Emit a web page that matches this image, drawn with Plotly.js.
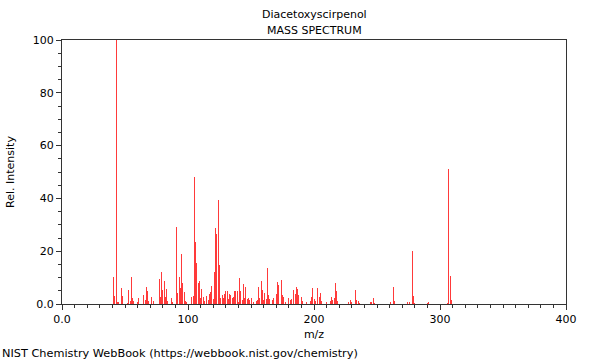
<!DOCTYPE html>
<html>
<head>
<meta charset="utf-8">
<script src="https://cdn.plot.ly/plotly-3.0.1.min.js"></script>
<style>html,body{margin:0;padding:0;background:#fff;}#chart{width:600px;height:360px;}</style>
</head>
<body>
<div id="chart"></div>
<script>
// m/z values and relative intensities
const mz = [41,42,43,44,45,47,48,52,53,54,55,56,57,60,61,65,66,67,68,69,71,73,77,78,79,80,81,82,83,84,87,88,
  91,92,93,94,95,96,97,98,99,103,104,105,106,107,108,109,110,111,112,113,115,116,117,118,119,120,
  121,122,123,124,125,126,127,128,129,130,131,132,133,134,135,136,137,138,139,140,141,142,143,144,145,
  146,147,148,149,150,152,154,155,156,157,158,159,160,161,162,163,164,165,167,168,170,171,172,174,175,
  176,177,180,181,182,184,185,186,187,188,190,191,194,197,198,199,200,201,203,204,205,206,210,213,214,
  215,216,217,218,219,227,229,230,233,234,235,236,245,246,247,248,261,263,264,274,276,278,279,280,290,
  291,306,307,308,309];
const intensity = [10.4,3,100,0.6,0.9,5.9,3,0.5,5.3,1.3,10.4,2.1,1,0.9,2.1,3.4,1.5,6.3,4.9,1,2.5,1,9.6,2.8,12.2,5.3,8.8,2.8,5.6,1,2.1,0.6,
  29,4,10.4,5.9,19,7.8,4.4,1.3,0.6,2.5,3,48,23.4,15.4,8,8.8,2.1,5.6,2.5,1.2,3,1.5,3.7,4.7,6.8,1.8,
  12,28.7,26.5,39.4,14.8,2.1,3.4,2.3,3.7,5,4.8,1.9,3.8,3.5,2.1,2.5,4.8,5,5,0.8,9.7,4.8,1.5,7.6,2.1,
  6.6,1.9,2.1,1.6,2.1,0.6,1.3,1.6,6.3,2.3,8.8,5.3,1.5,4,1.9,13.5,3.4,1.9,1.5,2.3,3.8,8.2,7.2,9.2,3.5,
  2.5,0.8,2.3,1.6,1.9,5.3,3.8,6.6,5.7,3.5,2.5,1,0.6,1,2.8,5.9,1.9,1,6,2.5,4,1,0.6,1.3,2.8,
  1.5,2.3,7.8,5,1,0.6,1.5,0.6,5.3,1.5,1,0.4,0.9,0.9,2.3,0.4,0.6,6.6,1.3,0.6,0.9,20,2.9,0.5,0.4,
  0.6,0.4,51,10.5,1.5];
const xTickVals = [0,100,200,300,400];
const xTickText = ['0.0','100','200','300','400'];
const yTickVals = [0,20,40,60,80,100];
const yTickText = ['0.0','20','40','60','80','100'];
const chartTitle = 'Diacetoxyscirpenol';
const chartSubtitle = 'MASS SPECTRUM';
const footer = 'NIST Chemistry WebBook (https://webbook.nist.gov/chemistry)';

const FONT = 'DejaVu Sans, sans-serif';
const trace = {
  type: 'bar', x: mz, y: intensity, width: 0.8,
  marker: {color: '#ff3a3a', line: {width: 0}},
  hoverinfo: 'x+y'
};
const axisCommon = {
  showline: true, mirror: true, linecolor: '#333', linewidth: 1,
  ticks: 'outside', ticklen: 5, tickcolor: '#333', showgrid: false, zeroline: false,
  tickfont: {family: FONT, size: 11, color: '#000'}
};
const layout = {
  width: 600, height: 360,
  margin: {l: 62, r: 34, t: 40, b: 56},
  paper_bgcolor: '#fff', plot_bgcolor: '#fff',
  font: {family: FONT, size: 11, color: '#000'},
  showlegend: false, bargap: 0,
  xaxis: Object.assign({}, axisCommon, {
    range: [0, 400], tickmode: 'array', tickvals: xTickVals, ticktext: xTickText,
    minor: {dtick: 10, ticks: 'outside', ticklen: 3, tickcolor: '#333', showgrid: false},
    title: {text: 'm/z', font: {family: FONT, size: 11}, standoff: 5}
  }),
  yaxis: Object.assign({}, axisCommon, {
    range: [0, 100], tickmode: 'array', tickvals: yTickVals, ticktext: yTickText,
    minor: {dtick: 5, ticks: 'outside', ticklen: 3, tickcolor: '#333', showgrid: false},
    title: {text: 'Rel. Intensity', font: {family: FONT, size: 11}, standoff: 15}
  }),
  annotations: [
    {text: chartTitle, xref: 'paper', yref: 'paper', x: 0.5, y: (304 - 14) / 264,
     xanchor: 'center', yanchor: 'middle', showarrow: false, font: {family: FONT, size: 11}},
    {text: chartSubtitle, xref: 'paper', yref: 'paper', x: 0.5, y: (304 - 30) / 264,
     xanchor: 'center', yanchor: 'middle', showarrow: false, font: {family: FONT, size: 11}},
    {text: footer, xref: 'paper', yref: 'paper', x: -62 / 504, y: (304 - 353) / 264,
     xanchor: 'left', yanchor: 'middle', showarrow: false, font: {family: FONT, size: 11.3}}
  ]
};
Plotly.newPlot('chart', [trace], layout, {staticPlot: true, displayModeBar: false});
</script>
</body>
</html>
